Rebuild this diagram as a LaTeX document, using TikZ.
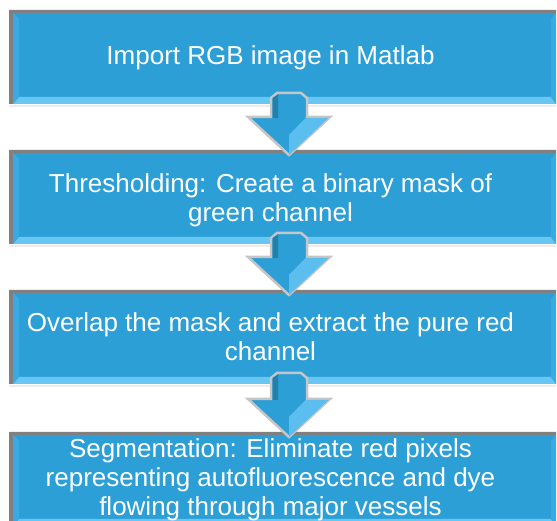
\documentclass[tikz,border=0pt]{standalone}
\usepackage{fontspec}
\setmainfont{Liberation Sans}
\usepackage{tikz}
\usetikzlibrary{calc}
\definecolor{boxblue}{RGB}{44,159,214}
\definecolor{boxlight}{RGB}{104,198,242}
\definecolor{boxside}{RGB}{58,170,224}
\definecolor{framegray}{RGB}{128,128,128}
\definecolor{arrowlight}{RGB}{92,190,238}

\begin{document}
\begin{tikzpicture}[x=1pt,y=1pt,
  stepbox/.style={rectangle,fill=boxblue,minimum width=547pt,minimum height=94pt,inner sep=0pt,outer sep=0pt},
  steptext/.style={text=white,align=center,font=\fontsize{26}{29}\selectfont}]
\useasboundingbox (0,0) rectangle (557,521);
\clip (0,0) rectangle (557,521);

\node[stepbox] (box1) at (282.5,464) {};
\node[stepbox] (box2) at (282.5,324) {};
\node[stepbox] (box3) at (282.5,184) {};
\node[stepbox] (box4) at (282.5,42) {};

\foreach \b in {box1,box2,box3,box4}{
  \fill[gray!15] ($(\b.south west)+(0,-3)$) rectangle ($(\b.south east)+(0,-1)$);
  \fill[framegray] (\b.north west) -- (\b.south west) -- ($(\b.south west)+(4,0)$)
    -- ($(\b.north west)+(4,-3)$) -- ($(\b.north east)+(0,-3)$) -- (\b.north east) -- cycle;
  \fill[boxlight] ($(\b.south west)+(4,0)$) -- (\b.south east) -- ($(\b.south east)+(-5,7)$)
    -- ($(\b.south west)+(10,7)$) -- cycle;
  \fill[boxside] ($(\b.south west)+(4,0)$) -- ($(\b.north west)+(4,-3)$)
    -- ($(\b.north west)+(10,-9)$) -- ($(\b.south west)+(10,7)$) -- cycle;
  \fill[boxside] (\b.south east) -- ($(\b.north east)+(0,-3)$)
    -- ($(\b.north east)+(-5,-9)$) -- ($(\b.south east)+(-5,7)$) -- cycle;
}

\foreach \a/\b in {box1/box2,box2/box3,box3/box4}{
  \coordinate (s) at ($(\a.south)+(6.5,11)$);
  \coordinate (e) at ($(\b.north)+(6.5,-5)$);
  \draw[gray!45,line width=2.5pt,line join=miter,fill=boxblue]
    ($(s)+(-18,-5)$) -- ($(s)+(-12,0)$) -- ($(s)+(12,0)$) -- ($(s)+(18,-5)$)
    -- ($(e)+(18,38)$) -- ($(e)+(41,38)$) -- (e) -- ($(e)+(-41,38)$)
    -- ($(e)+(-18,38)$) -- cycle;
  \fill[arrowlight] (e) -- ($(e)+(39.5,37)$) -- ($(e)+(16.5,37)$) -- ($(e)+(0,20)$) -- cycle;
  \fill[boxblue!80!black] ($(s)+(-16.5,-5)$) -- ($(s)+(-11,-1.5)$) -- ($(e)+(-11,37)$)
    -- ($(e)+(-16.5,37)$) -- cycle;
}

\node[steptext] (t1) at ($(box1.center)+(-12,-1)$) {Import RGB image in Matlab};
\node[steptext] (t2) at ($(box2.center)+(-12,-3)$) {Thresholding: Create a binary mask of\\green channel};
\node[steptext] (t3) at ($(box3.center)+(-12,0)$) {Overlap the mask and extract the pure red\\channel};
\node[steptext] (t4) at ($(box4.center)+(-12,-1)$) {Segmentation: Eliminate red pixels\\representing autofluorescence and dye\\flowing through major vessels};
\end{tikzpicture}
\end{document}
